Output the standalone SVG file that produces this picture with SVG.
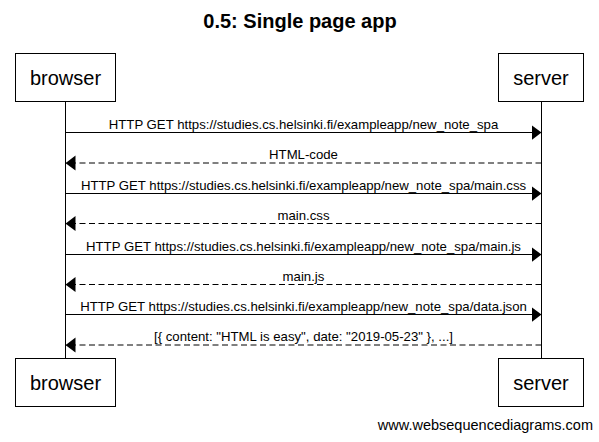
<svg xmlns="http://www.w3.org/2000/svg" width="599" height="442" viewBox="0 0 599 442">
<defs>
<style>
text{font-family:"Liberation Sans",Arial,sans-serif;fill:#000}
.title{font-size:20px;font-weight:bold;text-anchor:middle}
.actor{font-size:20px;text-anchor:middle}
.msg{font-size:13.2px;text-anchor:middle}
.wm{font-size:14.5px;text-anchor:end}
.box{fill:#fff;stroke:#000;stroke-width:1}
.life{stroke:#000;stroke-width:1}
.sync{stroke:#000;stroke-width:1;fill:none;marker-end:url(#head)}
.reply{stroke:#000;stroke-width:1;fill:none;stroke-dasharray:6,3.5;marker-end:url(#head)}
</style>
<marker id="head" viewBox="0 0 10 16" refX="10" refY="8" markerWidth="10" markerHeight="16" markerUnits="userSpaceOnUse" orient="auto">
<path d="M0,0.5 L10,8 L0,15.5 Z" fill="#000"/>
</marker>
</defs>
<rect width="599" height="442" fill="#fff"/>
<text class="title" x="300" y="28">0.5: Single page app</text>
<g id="lifelines">
<line class="life" x1="65.5" y1="102" x2="65.5" y2="358"/>
<line class="life" x1="541.5" y1="102" x2="541.5" y2="358"/>
</g>
<g id="browser">
<rect class="box" x="15.5" y="53.5" width="100" height="48"/>
<text class="actor" x="65.5" y="84.5">browser</text>
</g>
<g id="server">
<rect class="box" x="498.5" y="53.5" width="85" height="48"/>
<text class="actor" x="541" y="84.5">server</text>
</g>
<g id="browser-bottom">
<rect class="box" x="15.5" y="358.5" width="100" height="48"/>
<text class="actor" x="65.5" y="389.5">browser</text>
</g>
<g id="server-bottom">
<rect class="box" x="498.5" y="358.5" width="85" height="48"/>
<text class="actor" x="541" y="389.5">server</text>
</g>
<g id="connectors">
<line class="sync" x1="65.5" y1="132.5" x2="541.5" y2="132.5"/>
<text class="msg" x="303.5" y="128.5">HTTP GET https://studies.cs.helsinki.fi/exampleapp/new_note_spa</text>
<line class="reply" x1="541.5" y1="163" x2="65.5" y2="163"/>
<text class="msg" x="303.5" y="159">HTML-code</text>
<line class="sync" x1="65.5" y1="193.5" x2="541.5" y2="193.5"/>
<text class="msg" x="303.5" y="189.5">HTTP GET https://studies.cs.helsinki.fi/exampleapp/new_note_spa/main.css</text>
<line class="reply" x1="541.5" y1="223.5" x2="65.5" y2="223.5"/>
<text class="msg" x="303.5" y="219.5">main.css</text>
<line class="sync" x1="65.5" y1="254.5" x2="541.5" y2="254.5"/>
<text class="msg" x="303.5" y="250.5">HTTP GET https://studies.cs.helsinki.fi/exampleapp/new_note_spa/main.js</text>
<line class="reply" x1="541.5" y1="284.5" x2="65.5" y2="284.5"/>
<text class="msg" x="303.5" y="280.5">main.js</text>
<line class="sync" x1="65.5" y1="314.5" x2="541.5" y2="314.5"/>
<text class="msg" x="303.5" y="310.5">HTTP GET https://studies.cs.helsinki.fi/exampleapp/new_note_spa/data.json</text>
<line class="reply" x1="541.5" y1="345" x2="65.5" y2="345"/>
<text class="msg" x="303.5" y="341">[{ content: "HTML is easy", date: "2019-05-23" }, ...]</text>
</g>
<text class="wm" x="593" y="430">www.websequencediagrams.com</text>
</svg>
